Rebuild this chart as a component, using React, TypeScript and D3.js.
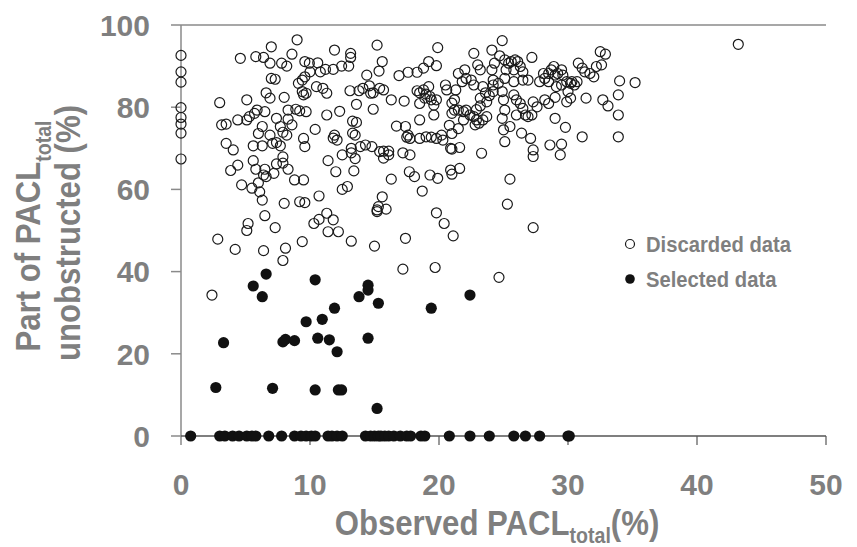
import React from 'react';
import * as d3 from 'd3';

// open circles: [PACL observed, part unobstructed]
const discarded: [number, number][] = [
  [0, 92.6], [0, 88.6], [0, 86.1], [0, 79.9], [0, 77.5], [0, 75.9], [0, 73.7], [0, 67.4],
  [9.0, 96.4], [7.0, 94.7], [4.6, 91.9], [5.8, 92.3], [6.4, 92.1], [6.9, 90.7], [7.8, 90.7], [8.2, 90.0], [8.6, 92.9],
  [9.6, 91.1], [9.95, 90.7], [10.6, 90.8], [11.2, 89.2], [10.8, 88.6], [10.0, 88.6], [9.4, 86.6], [9.6, 87.4],
  [9.1, 85.8], [9.4, 83.8], [9.5, 83.0], [9.7, 83.4], [10.5, 85.0], [11.0, 84.6], [11.3, 83.4], [11.3, 78.1],
  [7.0, 87.0], [7.3, 86.8], [6.6, 83.5], [6.9, 82.2], [8.0, 82.4], [3.0, 81.1], [5.1, 81.8],
  [3.15, 75.7], [3.5, 75.9], [4.4, 76.9], [5.1, 76.9], [5.3, 77.7], [5.7, 78.5], [5.9, 79.3], [6.5, 78.9],
  [7.4, 77.3], [8.3, 77.1], [8.3, 79.3], [8.9, 79.5], [9.2, 79.1], [9.7, 78.9], [7.7, 75.3], [8.6, 75.7],
  [6.3, 75.3], [6.0, 73.6], [6.9, 73.2], [7.4, 71.4], [7.7, 70.6], [7.1, 71.2], [8.2, 73.2], [9.5, 72.4],
  [9.6, 70.4], [5.6, 70.6], [6.3, 70.6], [3.5, 71.2], [4.05, 69.6], [10.4, 74.6], [7.9, 73.9],
  [5.6, 67.0], [11.4, 67.0], [7.9, 67.9],
  [3.85, 64.6], [4.4, 65.9], [4.7, 61.1], [5.5, 60.3], [5.8, 64.9], [6.5, 64.9], [6.6, 63.1], [6.4, 63.5],
  [6.0, 61.6], [7.2, 63.9], [7.4, 66.2], [7.9, 66.4], [8.3, 64.9], [8.8, 62.3], [9.5, 62.3], [6.1, 59.4],
  [6.3, 57.4], [10.7, 58.4], [8.0, 56.6], [9.2, 57.0], [9.6, 56.8], [6.5, 53.6], [5.2, 51.7], [5.1, 50.0],
  [7.3, 50.7], [10.3, 51.7], [10.7, 52.7], [11.3, 54.2], [11.4, 49.7], [2.85, 47.9], [4.2, 45.4], [6.4, 45.1],
  [8.1, 45.7], [7.9, 42.7], [9.4, 47.3], [2.4, 34.3],
  [11.9, 93.9], [15.2, 95.1], [19.9, 94.5], [22.7, 93.1], [13.15, 93.1], [13.15, 92.1], [11.8, 89.2],
  [12.45, 90.0], [13.0, 90.0], [15.6, 91.1], [15.35, 88.8], [14.4, 87.8], [16.9, 87.7], [17.6, 88.5],
  [18.3, 88.5], [18.8, 89.5], [19.2, 91.1], [19.8, 90.1],
  [13.1, 84.0], [13.8, 84.0], [14.1, 84.6], [14.6, 85.2], [14.9, 83.5], [14.7, 83.4], [15.4, 84.6], [15.7, 84.2],
  [13.6, 80.7], [14.9, 79.5], [16.3, 81.8], [17.3, 81.5],
  [18.3, 84.0], [18.5, 83.5], [18.8, 84.2], [19.0, 83.2], [19.2, 85.0], [19.4, 81.8], [19.6, 80.5], [18.5, 80.9],
  [18.9, 82.2], [19.3, 82.6], [19.8, 81.8],
  [20.5, 85.4], [20.6, 84.2], [21.2, 81.8], [21.3, 84.2], [21.5, 88.2], [21.8, 86.2], [22.0, 89.1], [22.1, 87.0],
  [22.5, 86.6], [22.7, 85.4], [23.0, 90.3], [23.2, 89.1], [23.2, 82.2], [23.4, 85.0], [23.6, 83.5], [23.7, 81.3],
  [21.2, 79.3], [21.0, 78.5], [21.5, 79.3], [21.9, 78.9], [22.1, 79.3], [22.4, 78.1], [22.7, 77.7], [22.9, 76.9],
  [23.1, 76.1], [22.8, 75.7], [23.4, 76.9], [23.7, 77.7],
  [18.5, 76.9], [19.6, 78.1], [17.4, 75.3], [16.7, 75.4], [17.6, 73.2], [17.5, 72.7], [17.75, 72.4],
  [18.5, 72.4], [19.0, 72.8], [19.4, 72.7], [19.8, 72.4], [20.2, 73.2], [20.3, 72.0], [20.9, 70.0], [21.0, 69.8],
  [21.6, 70.2], [23.3, 68.8], [11.9, 73.2], [11.8, 72.5], [12.1, 72.0], [13.3, 73.7], [13.5, 73.2], [14.3, 70.8],
  [14.8, 70.4], [12.5, 68.4], [13.2, 70.0], [13.9, 70.4], [13.2, 68.9], [15.4, 69.2], [15.7, 69.3], [16.1, 69.3],
  [16.1, 68.4], [17.2, 68.9], [17.75, 68.4], [12.3, 79.0], [13.3, 76.6], [13.6, 76.3], [13.5, 67.5], [15.7, 67.6],
  [20.8, 75.6], [21.0, 73.6], [21.5, 74.8], [21.9, 76.9], [21.0, 81.0], [23.9, 82.8], [23.2, 80.3], [22.9, 79.4],
  [24.9, 96.2], [32.5, 93.5], [32.9, 92.9], [27.2, 92.1], [24.1, 93.9], [24.7, 92.5], [25.1, 91.5], [25.4, 90.7],
  [25.6, 91.1], [25.9, 91.5], [26.1, 91.1], [26.3, 89.9], [26.5, 88.6], [25.8, 89.1], [25.2, 89.1], [24.3, 90.7],
  [24.1, 89.1], [24.2, 86.6], [24.6, 85.8], [24.2, 85.4], [25.1, 87.0], [25.8, 86.2], [26.5, 86.6], [26.9, 86.6],
  [27.8, 86.2], [28.1, 88.2], [28.2, 87.0], [28.5, 88.2], [28.7, 89.1], [28.9, 89.9], [29.0, 87.8], [29.2, 88.2],
  [29.5, 89.1], [29.6, 87.8], [28.5, 86.2], [29.1, 85.0], [29.5, 85.4], [29.9, 86.2], [30.2, 85.8], [30.3, 86.2],
  [30.5, 85.4], [30.7, 86.2], [30.0, 83.8], [30.2, 82.2], [29.9, 81.3],
  [30.8, 90.7], [31.1, 89.5], [31.3, 88.6], [31.7, 88.2], [32.0, 87.4], [32.2, 89.9], [32.6, 90.3],
  [31.4, 82.2], [32.7, 81.8], [33.1, 80.3], [34.0, 86.4], [35.2, 86.0], [33.9, 83.0], [33.9, 78.1], [33.9, 72.8],
  [31.1, 72.8], [24.2, 83.8], [24.9, 83.8], [25.0, 81.8], [25.1, 79.3], [24.9, 77.3], [25.8, 83.0], [26.0, 81.8],
  [26.3, 80.9], [26.0, 78.1], [26.5, 79.7], [26.7, 78.1], [26.9, 77.7], [27.2, 78.1], [27.3, 81.3], [27.6, 80.1],
  [28.2, 81.8], [28.5, 80.9], [29.0, 77.3], [29.8, 75.1], [25.5, 75.3], [25.1, 71.6], [26.4, 73.7], [27.1, 72.4],
  [27.3, 69.6], [27.3, 68.0], [28.6, 70.8], [29.5, 71.0], [29.4, 68.4], [25.0, 74.5], [29.0, 82.4],
  [43.2, 95.3],
  [12.0, 64.3], [13.4, 64.5], [12.5, 60.0], [12.9, 60.7], [16.3, 62.5], [17.7, 64.3], [18.1, 63.1], [19.3, 63.5],
  [19.9, 62.7], [20.9, 64.7], [21.0, 63.7], [21.6, 65.1], [18.7, 59.6], [15.6, 58.2], [15.2, 55.0], [15.3, 55.8],
  [15.9, 55.2], [15.2, 54.6], [11.8, 52.6], [12.2, 49.7], [13.2, 47.4], [15.0, 46.2], [17.4, 48.1], [19.8, 54.3],
  [20.4, 51.7], [21.1, 48.7], [17.2, 40.6], [19.7, 41.0],
  [25.5, 62.5], [25.3, 56.4], [27.3, 50.7], [24.65, 38.6],
];

// filled circles above zero
const selected: [number, number][] = [
  [6.6, 39.4], [5.6, 36.5], [10.4, 38.0], [6.3, 33.9], [14.5, 36.7], [14.5, 35.5], [13.8, 33.9], [15.3, 32.3],
  [11.9, 31.1], [19.4, 31.1], [22.4, 34.3], [9.7, 27.8], [10.95, 28.4], [3.3, 22.7], [7.9, 22.9], [8.1, 23.5],
  [8.8, 23.2], [10.6, 23.8], [11.5, 23.4], [14.5, 23.8], [12.1, 20.5], [2.7, 11.8], [7.1, 11.6], [10.4, 11.2],
  [12.2, 11.2], [12.45, 11.2], [15.2, 6.7],
];

// filled circles lying on the zero line
const selectedZeroX = [
  0.75, 3.0, 3.4, 4.0, 4.5, 5.1, 5.5, 5.8, 6.8, 7.8, 8.8, 9.3, 9.7, 10.1, 10.4, 11.4, 11.7, 12.1, 12.5,
  14.3, 14.7, 15.0, 15.3, 15.5, 15.8, 16.1, 16.5, 17.0, 17.5, 17.8, 18.6, 18.9, 20.8, 22.4, 23.9, 25.8,
  26.7, 27.8, 30.0, 30.1,
];

const xTicks = [0, 10, 20, 30, 40, 50];
const yTicks = [0, 20, 40, 60, 80, 100];
const legendLabels = ['Discarded data', 'Selected data'];

const W = 857;
const H = 547;
const GREY = '#7f7f7f';
const FONT = '"Liberation Sans", Arial, sans-serif';
// squeeze Arial a bit so it sits closer to the narrow original face
const SQ = 0.89;

export default function App() {
  const x = d3.scaleLinear().domain([0, 50]).range([181, 826]);
  const y = d3.scaleLinear().domain([0, 100]).range([436, 25]);

  const selectedAll: [number, number][] = [...selected, ...selectedZeroX.map(v => [v, 0] as [number, number])];

  return (
    <svg width={W} height={H} style={{ position: 'absolute', left: 0, top: 0, background: '#fff' }} fontFamily={FONT}>
      {/* frame */}
      <line x1={x(0)} x2={x(50)} y1={y(100)} y2={y(100)} stroke="#8a8a8a" strokeWidth={1.5} />
      <line x1={x(0)} x2={x(0)} y1={y(100)} y2={y(0) + 9} stroke="#8a8a8a" strokeWidth={1.5} />
      {yTicks.map(t => (
        <line key={'yt' + t} x1={x(0) - 10} x2={x(0)} y1={y(t)} y2={y(t)} stroke="#8a8a8a" strokeWidth={1.5} />
      ))}
      <line x1={x(0)} x2={x(50)} y1={y(0)} y2={y(0)} stroke="#555" strokeWidth={1.5} />
      {xTicks.filter(t => t > 0).map(t => (
        <line key={'xt' + t} x1={x(t)} x2={x(t)} y1={y(0)} y2={y(0) + 9} stroke="#555" strokeWidth={1.2} />
      ))}

      {/* tick labels */}
      {yTicks.map(t => (
        <text key={'yl' + t} x={150} y={y(t)} dy="0.36em" textAnchor="end" fontSize={30} fontWeight="bold" fill={GREY}>
          {t}
        </text>
      ))}
      {xTicks.map(t => (
        <text key={'xl' + t} x={x(t)} y={495} textAnchor="middle" fontSize={30} fontWeight="bold" fill={GREY}>
          {t}
        </text>
      ))}

      {/* axis titles */}
      <g transform={`translate(497,535) scale(${SQ},1)`}>
        <text x={0} y={0} textAnchor="middle" fontSize={35} fontWeight="bold" fill={GREY}>
          Observed PACL<tspan fontSize={22} dy={8}>total</tspan><tspan dy={-8}>(%)</tspan>
        </text>
      </g>
      <g transform={`translate(40,236) rotate(-90) scale(${SQ},1)`}>
        <text x={0} y={0} textAnchor="middle" fontSize={35} fontWeight="bold" fill={GREY}>
          Part of PACL<tspan fontSize={22} dy={11}>total</tspan>
        </text>
      </g>
      <g transform={`translate(80,233) rotate(-90) scale(${SQ},1)`}>
        <text x={0} y={0} textAnchor="middle" fontSize={35} fontWeight="bold" fill={GREY}>
          unobstructed (%)
        </text>
      </g>

      {/* data */}
      {discarded.map((d, i) => (
        <circle key={'d' + i} cx={x(d[0])} cy={y(d[1])} r={5} fill="none" stroke="#1a1a1a" strokeWidth={1.2} />
      ))}
      {selectedAll.map((d, i) => (
        <circle key={'s' + i} cx={x(d[0])} cy={y(d[1])} r={5.6} fill="#111" />
      ))}

      {/* legend */}
      <circle cx={630} cy={244} r={4.5} fill="none" stroke="#1a1a1a" strokeWidth={1.2} />
      <circle cx={630} cy={279} r={4.8} fill="#111" />
      {legendLabels.map((label, i) => (
        <g key={label} transform={`translate(646,${244 + i * 35}) scale(0.92,1)`}>
          <text x={0} y={0} dy="0.36em" fontSize={22} fontWeight="bold" fill={GREY}>{label}</text>
        </g>
      ))}
    </svg>
  );
}
